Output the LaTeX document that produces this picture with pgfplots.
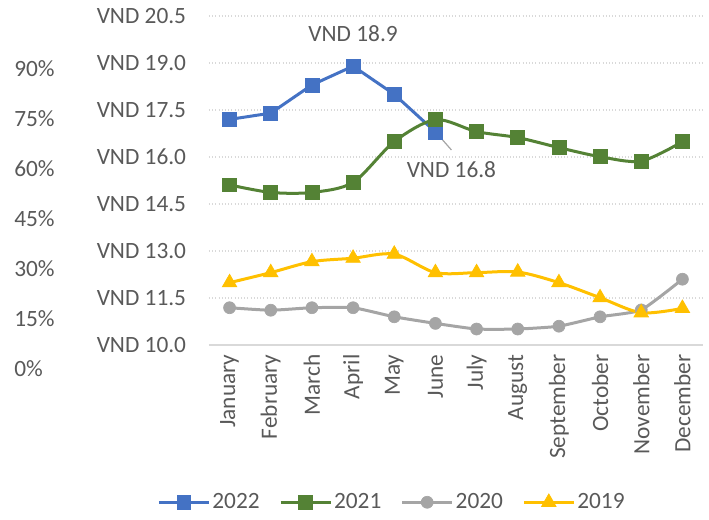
\documentclass[border=0pt]{standalone}
\usepackage{pgfplots}
\pgfplotsset{compat=1.18}
\usepackage{fontspec}
\setmainfont{Carlito}
\usetikzlibrary{calc}

\definecolor{c22}{HTML}{4472C4}
\definecolor{c21}{HTML}{548235}
\definecolor{c20}{HTML}{A5A5A5}
\definecolor{c19}{HTML}{FFC000}
\definecolor{txt}{HTML}{595959}
\definecolor{grd}{HTML}{D9D9D9}

\pgfplotsset{
  /pgf/number format/assume math mode=true,
  every tick label/.append style={text=txt},
}

\begin{document}
\fontsize{17.5}{21}\selectfont
\begin{tikzpicture}
\begin{axis}[
  name=main,
  scale only axis,
  width=370.5pt, height=246.75pt,
  xmin=-0.5, xmax=11.5,
  ymin=10, ymax=20.5,
  xtick={0,...,11},
  xticklabels={January,February,March,April,May,June,July,August,September,October,November,December},
  xticklabel style={yshift=-7pt, rotate=90, anchor=east, inner sep=0pt},
  ytick={10,11.5,...,20.6},
  yticklabel={VND \pgfmathprintnumber[fixed,fixed zerofill,precision=1]{\tick}},
  yticklabel style={inner sep=0pt, xshift=-17pt},
  major tick length=0pt,
  axis line style={draw=none},
  ymajorgrids,
  major grid style={grd, dotted, line width=0.9pt},
  extra y ticks={10},
  extra y tick labels={},
  extra y tick style={grid=major, major grid style={grd, solid, line width=1.2pt}},
  legend columns=-1,
  legend style={at={(-0.105,-0.478)}, anchor=west, draw=none, fill=none,
    inner sep=0pt, text=txt, nodes={inner sep=1.5pt},
    /tikz/every odd column/.append style={column sep=0pt},
    /tikz/every even column/.append style={column sep=13pt}},
  legend image code/.code={
    \draw[mark repeat=2, mark phase=2] plot coordinates {(0pt,0pt) (18.75pt,0pt) (37.5pt,0pt)};},
  clip=false,
]
\addplot[c22, line width=2.25pt, mark=square*, mark size=5.2pt, mark options={solid, line width=0.5pt}]
  coordinates {(0,17.20) (1,17.40) (2,18.30) (3,18.90) (4,18.00) (5,16.80)};
\addlegendentry{2022}
\addplot[c21, line width=2.25pt, smooth, tension=0.5, mark=square*, mark size=5.2pt, mark options={solid, line width=0.5pt}]
  coordinates {(0,15.11) (1,14.87) (2,14.87) (3,15.19) (4,16.49) (5,17.19)
               (6,16.81) (7,16.62) (8,16.30) (9,16.01) (10,15.87) (11,16.49)};
\addlegendentry{2021}
\addplot[c20, line width=2.25pt, smooth, tension=0.3, mark=*, mark size=4.5pt, mark options={solid, line width=0.5pt}]
  coordinates {(0,11.19) (1,11.11) (2,11.19) (3,11.19) (4,10.90) (5,10.69)
               (6,10.51) (7,10.51) (8,10.60) (9,10.90) (10,11.12) (11,12.10)};
\addlegendentry{2020}
\addplot[c19, line width=2.25pt, smooth, tension=0.5, mark=triangle*, mark size=6.3pt, mark options={solid, line width=0.5pt}]
  coordinates {(0,11.99) (1,12.31) (2,12.66) (3,12.77) (4,12.90) (5,12.31)
               (6,12.31) (7,12.33) (8,11.99) (9,11.51) (10,11.03) (11,11.17)};
\addlegendentry{2019}
\node[text=txt, inner sep=0pt] at ([yshift=24.75pt]axis cs:3,18.9) {VND 18.9};
\draw[c20, line width=0.9pt] ([xshift=0.75pt,yshift=-0.75pt]axis cs:5,16.8) -- ++(11.25pt,-12.75pt);
\node[text=txt, inner sep=0pt] at ([xshift=12pt,yshift=-28.5pt]axis cs:5,16.8) {VND 16.8};
\end{axis}
\begin{axis}[
  at={($(main.south west)+(-146.25pt,-18pt)$)},
  anchor=south west,
  scale only axis,
  width=1pt, height=225pt,
  ymin=0, ymax=90,
  xmin=0, xmax=1,
  hide x axis,
  axis line style={draw=none},
  major tick length=0pt,
  ytick={0,15,...,90},
  yticklabel={\pgfmathprintnumber{\tick}\%},
  yticklabel style={anchor=west, inner sep=0pt},
]
\end{axis}
\path ($(main.south west)+(-156.75pt,-130.5pt)$) rectangle ($(main.south west)+(375pt,258.75pt)$);
\end{tikzpicture}
\end{document}
